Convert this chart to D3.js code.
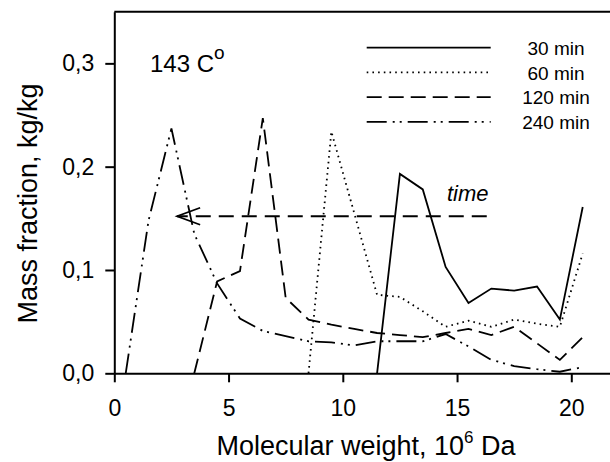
<!DOCTYPE html>
<html>
<head>
<meta charset="utf-8">
<script src="https://cdn.jsdelivr.net/npm/d3@7"></script>
<style>
  body { margin: 0; background: #fff; }
  svg { display: block; font-family: "Liberation Sans", Arial, sans-serif; }
  .axis path, .axis line { stroke: #000; stroke-width: 2px; }
  .axis text { font-size: 23px; fill: #000; }
</style>
</head>
<body>
<div id="chart"></div>
<script>
// molecular weight class midpoints, 10^6 Da
const mw = [0.5, 1.5, 2.5, 3.5, 4.5, 5.5, 6.5, 7.5, 8.5, 9.5, 10.5,
            11.5, 12.5, 13.5, 14.5, 15.5, 16.5, 17.5, 18.5, 19.5, 20.5];

// mass fraction, kg/kg (null = not measured)
const min30 = [null, null, null, null, null, null, null, null, null, null, null,
               0, 0.193, 0.178, 0.103, 0.068, 0.082, 0.080, 0.084, 0.052, 0.161];
const min60 = [null, null, null, null, null, null, null, null, 0, 0.234, 0.155,
               0.076, 0.074, 0.060, 0.045, 0.051, 0.045, 0.052, 0.048, 0.045, 0.116];
const min120 = [null, null, null, 0, 0.089, 0.099, 0.247, 0.073, 0.052, 0.047, 0.043,
                0.039, 0.037, 0.035, 0.039, 0.043, 0.037, 0.045, 0.029, 0.013, 0.035];
const min240 = [0, 0.148, 0.237, 0.135, 0.087, 0.053, 0.041, 0.036, 0.031, 0.030, 0.027,
                0.031, 0.031, 0.031, 0.038, 0.026, 0.013, 0.007, 0.004, 0.0015, 0.006];

const seriesNames = ["30 min", "60 min", "120 min", "240 min"];
const seriesValues = [min30, min60, min120, min240];
const dashes = ["none", "1.6,4.1", "15,7", "20,6,2,5,2,6"];

const xTicks = [0, 5, 10, 15, 20];
const yTicks = [0, 0.1, 0.2, 0.3];

// "time" arrow, data units
const arrowX = [16.3, 2.75];
const arrowY = 0.152;

const width = 610, height = 462;
const margin = {top: 11.7, left: 114.3, bottom: 88.7};

const svg = d3.select("#chart").append("svg")
    .attr("width", width)
    .attr("height", height);

// Scales
const x = d3.scaleLinear()
    .domain([0, 21.8])
    .range([margin.left, margin.left + 21.8 * 22.85]);

const y = d3.scaleLinear()
    .domain([0, 0.35])
    .range([height - margin.bottom, margin.top]);

const locale = d3.formatLocale({decimal: ",", thousands: " ", grouping: [3], currency: ["", ""]});
const fmt = locale.format(".1f");

// Axes
const xAxis = d3.axisBottom(x)
    .tickValues(xTicks)
    .tickFormat(d3.format("d"))
    .tickSize(9)
    .tickSizeOuter(0)
    .tickPadding(17);

const yAxis = d3.axisLeft(y)
    .tickValues(yTicks)
    .tickFormat(fmt)
    .tickSize(9)
    .tickSizeOuter(0)
    .tickPadding(11);

svg.append("g")
    .attr("class", "axis")
    .attr("transform", "translate(0," + y(0) + ")")
    .call(xAxis);

svg.append("g")
    .attr("class", "axis")
    .attr("transform", "translate(" + x(0) + ",0)")
    .call(yAxis);

// top border of the frame
svg.append("line")
    .attr("x1", x(0)).attr("x2", x(21.8))
    .attr("y1", y(0.35)).attr("y2", y(0.35))
    .attr("stroke", "#000")
    .attr("stroke-width", 2);

// Lines
const line = d3.line()
    .defined(d => d[1] !== null)
    .x(d => x(d[0]))
    .y(d => y(d[1]));

seriesValues.forEach(function (vals, i) {
    svg.append("path")
        .datum(mw.map((m, j) => [m, vals[j]]))
        .attr("fill", "none")
        .attr("stroke", "#000")
        .attr("stroke-width", 1.8)
        .attr("stroke-dasharray", dashes[i])
        .attr("d", line);
});

// time arrow
svg.append("line")
    .attr("x1", x(arrowX[0])).attr("x2", x(arrowX[1]))
    .attr("y1", y(arrowY)).attr("y2", y(arrowY))
    .attr("stroke", "#000")
    .attr("stroke-width", 1.8)
    .attr("stroke-dasharray", "15,8");

svg.append("path")
    .attr("d", "M" + (x(arrowX[1]) + 23) + "," + (y(arrowY) - 8.5) +
               "L" + x(arrowX[1]) + "," + y(arrowY) +
               "L" + (x(arrowX[1]) + 23) + "," + (y(arrowY) + 8.5))
    .attr("fill", "none")
    .attr("stroke", "#000")
    .attr("stroke-width", 1.8);

svg.append("text")
    .attr("x", 447)
    .attr("y", 201)
    .style("font-size", "22px")
    .style("font-style", "italic")
    .text("time");

// temperature label
const temp = svg.append("text")
    .attr("x", 150)
    .attr("y", 72)
    .style("font-size", "24px");
temp.append("tspan").text("143 C");
temp.append("tspan")
    .attr("dy", -13)
    .style("font-size", "19px")
    .text("o");

// Legend
const legend = svg.append("g");
seriesNames.forEach(function (name, i) {
    const ly = 47.7 + i * 24.7;
    legend.append("line")
        .attr("x1", 366.7).attr("x2", 490.7)
        .attr("y1", ly).attr("y2", ly)
        .attr("stroke", "#000")
        .attr("stroke-width", 1.8)
        .attr("stroke-dasharray", dashes[i]);
    legend.append("text")
        .attr("x", 556)
        .attr("y", ly + 7.3)
        .attr("text-anchor", "middle")
        .style("font-size", "19px")
        .text(name);
});

// Axis titles
const xt = svg.append("text")
    .attr("x", 366)
    .attr("y", 455)
    .attr("text-anchor", "middle")
    .style("font-size", "27px");
xt.append("tspan").text("Molecular weight, 10");
xt.append("tspan").attr("dy", -12).style("font-size", "17px").text("6");
xt.append("tspan").attr("dy", 12).text(" Da");

svg.append("text")
    .attr("transform", "translate(37,203.5) rotate(-90)")
    .attr("text-anchor", "middle")
    .style("font-size", "27px")
    .text("Mass fraction, kg/kg");
</script>
</body>
</html>
